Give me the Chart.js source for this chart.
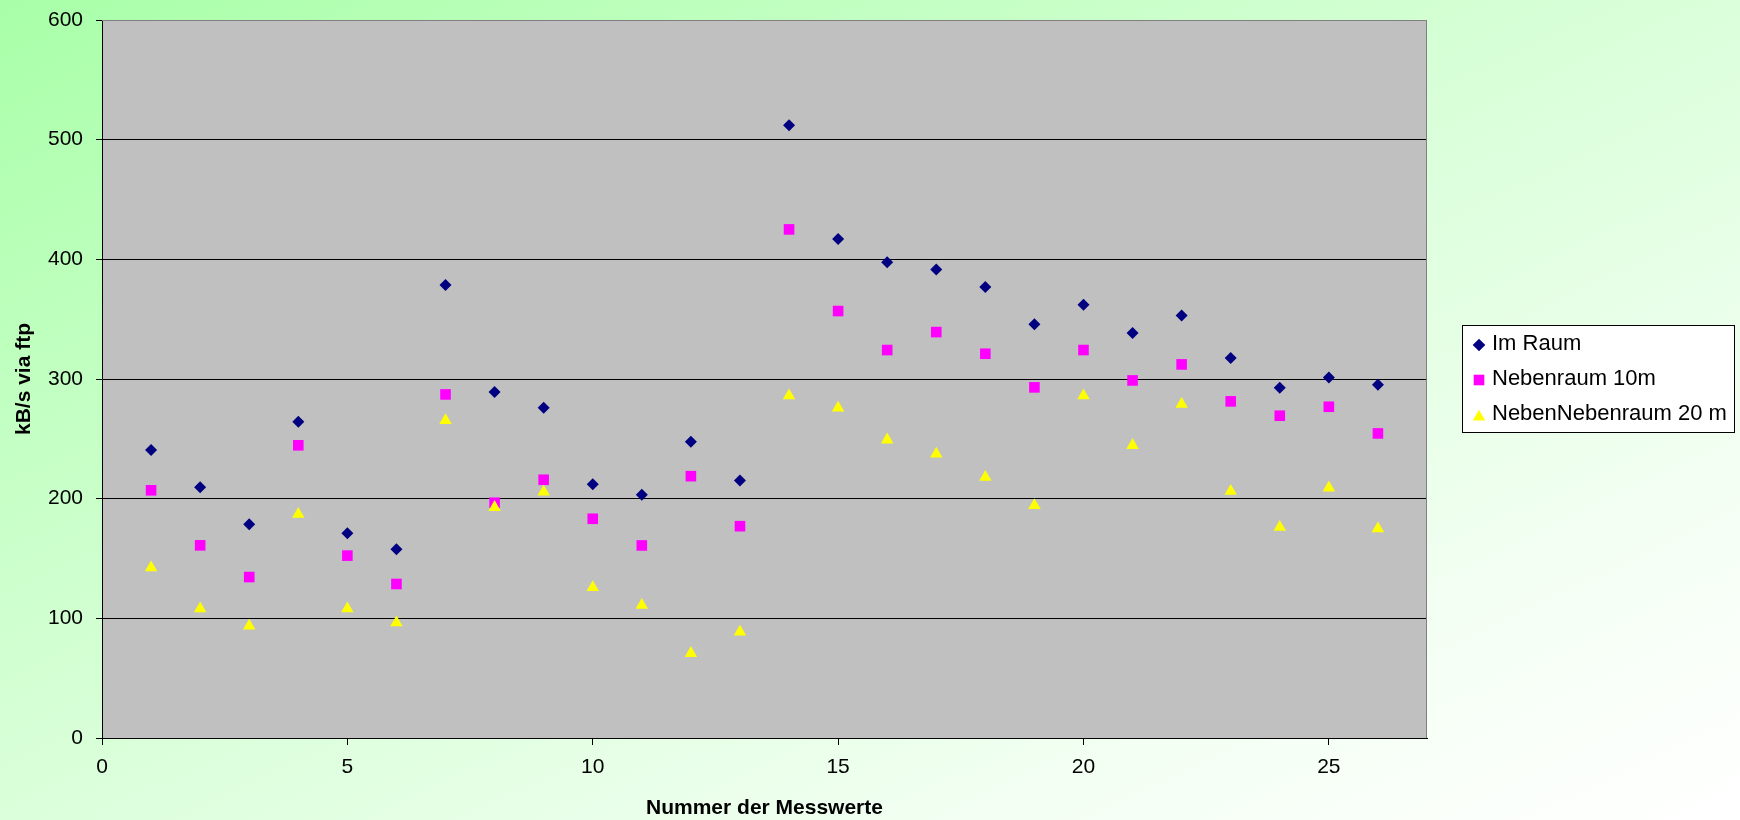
<!DOCTYPE html>
<html>
<head>
<meta charset="utf-8">
<script src="https://cdn.jsdelivr.net/npm/chart.js@4.4.0/dist/chart.umd.min.js"></script>
<style>
  html, body { margin: 0; padding: 0; }
  #wrap {
    width: 1740px; height: 820px;
    background: linear-gradient(to bottom right, #a8ffa8 0%, #d6ffd6 45%, #f4fff4 80%, #ffffff 100%);
  }
  canvas { display: block; }
</style>
</head>
<body>
<div id="wrap"><canvas id="chart" width="1740" height="820"></canvas></div>
<script>
// Nummer der Messwerte
const messwerte = [1, 2, 3, 4, 5, 6, 7, 8, 9, 10, 11, 12, 13, 14, 15, 16, 17, 18, 19, 20, 21, 22, 23, 24, 25, 26];

// kB/s via ftp
const imRaum = [240.7, 209.5, 178.6, 264.3, 171, 157.7, 378.5, 289.1, 276, 212.1, 203.2, 247.6, 215.2,
  512, 417, 397.5, 391.6, 376.9, 345.7, 362, 338.4, 353, 317.5, 292.7, 301.3, 295.2];
const nebenraum10m = [207, 161, 134.5, 244.6, 152.4, 128.7, 287.1, 196.6, 215.8, 183.2, 160.9, 218.8, 177,
  425, 356.8, 324.2, 339.2, 321.1, 293, 324.2, 298.8, 312.2, 281.3, 269.3, 276.8, 254.5];
const nebenNebenraum20m = [142.3, 108, 93.6, 187, 108, 96.4, 265.4, 192.8, 205.6, 125.9, 111, 70.8, 88.7,
  286.1, 275.8, 249.2, 237.4, 218, 194.3, 286, 244.6, 278.9, 206.2, 176.2, 209.1, 174.9];

const seriesNames = ['Im Raum', 'Nebenraum 10m', 'NebenNebenraum 20 m'];

const FONT = '"Liberation Sans", Arial, sans-serif';
Chart.defaults.font.family = FONT;
Chart.defaults.color = '#000';

function points(values) {
  return messwerte.map((x, i) => ({ x: x, y: values[i] }));
}

// grey plot area + grey top/right frame
const plotFrame = {
  id: 'plotFrame',
  beforeDraw(chart) {
    const { ctx, chartArea: a } = chart;
    ctx.save();
    ctx.fillStyle = '#c0c0c0';
    ctx.fillRect(a.left, a.top, a.right - a.left, a.bottom - a.top);
    ctx.restore();
  },
  beforeDatasetsDraw(chart) {
    const { ctx, chartArea: a } = chart;
    ctx.save();
    ctx.strokeStyle = '#808080';
    ctx.lineWidth = 1;
    ctx.beginPath();
    ctx.moveTo(a.left, Math.round(a.top) + 0.5);
    ctx.lineTo(Math.round(a.right) - 0.5, Math.round(a.top) + 0.5);
    ctx.lineTo(Math.round(a.right) - 0.5, a.bottom);
    ctx.stroke();
    ctx.restore();
  }
};

// Excel-style boxed legend to the right of the plot
const boxLegend = {
  id: 'boxLegend',
  afterDraw(chart) {
    const { ctx, chartArea: a } = chart;
    const left = Math.round(a.right) + 35;
    const w = 272, h = 107;
    const top = 325;
    ctx.save();
    ctx.fillStyle = '#ffffff';
    ctx.fillRect(left, top, w, h);
    ctx.strokeStyle = '#000';
    ctx.lineWidth = 1;
    ctx.strokeRect(left + 0.5, top + 0.5, w, h);
    ctx.font = '22px ' + FONT;
    ctx.textBaseline = 'middle';
    ctx.textAlign = 'left';
    chart.data.datasets.forEach((ds, i) => {
      const cy = top + 19 + i * 35;
      ctx.fillStyle = ds.backgroundColor;
      Chart.helpers.drawPoint(ctx, {
        pointStyle: ds.pointStyle, rotation: 0, radius: ds.legendRadius, borderWidth: 0
      }, left + 17, cy + (ds.pointStyle === 'triangle' ? 3 : 1));
      ctx.fillStyle = '#000';
      ctx.fillText(seriesNames[i], left + 30, cy);
    });
    ctx.restore();
  }
};

new Chart(document.getElementById('chart'), {
  type: 'scatter',
  data: {
    datasets: [
      { label: seriesNames[0], data: points(imRaum), pointStyle: 'rectRot', pointRadius: 6, legendRadius: 6.3,
        backgroundColor: '#000080', borderColor: '#000080', borderWidth: 0, order: 2 },
      { label: seriesNames[1], data: points(nebenraum10m), pointStyle: 'rect', pointRadius: 7.5, legendRadius: 7.5,
        backgroundColor: '#ff00ff', borderColor: '#ff00ff', borderWidth: 0, order: 1 },
      { label: seriesNames[2], data: points(nebenNebenraum20m), pointStyle: 'triangle', pointRadius: 7.2, legendRadius: 7.2,
        backgroundColor: '#ffff00', borderColor: '#ffff00', borderWidth: 0, order: 0 }
    ]
  },
  options: {
    responsive: false,
    animation: false,
    events: [],
    layout: { padding: { top: 20, right: 313, bottom: 0, left: 0 } },
    plugins: {
      legend: { display: false },
      tooltip: { enabled: false }
    },
    scales: {
      x: {
        type: 'linear',
        min: 0,
        max: 27,
        ticks: { stepSize: 5, includeBounds: false, font: { size: 21 }, padding: 10, maxRotation: 0 },
        grid: { drawOnChartArea: false, drawTicks: true, tickLength: 7, color: '#000' },
        border: { color: '#000', width: 1 },
        title: {
          display: true, text: 'Nummer der Messwerte',
          font: { size: 21, weight: 'bold', lineHeight: 1 },
          padding: { top: 0, bottom: 1 }
        },
        afterFit(s) {
          s.height = 82;
          s.paddingLeft = 0;
          s.paddingRight = 0;
        }
      },
      y: {
        min: 0,
        max: 600,
        ticks: { stepSize: 100, font: { size: 21 }, padding: 13 },
        grid: {
          color: c => (c.tick && c.tick.value === 600) ? '#808080' : '#000',
          tickColor: '#000',
          tickLength: 6
        },
        border: { color: '#000', width: 1 },
        title: {
          display: true, text: 'kB/s via ftp',
          font: { size: 21, weight: 'bold', lineHeight: 1.2 },
          padding: { top: 12 }
        },
        afterFit(s) {
          s.width = 102;
          s.paddingTop = 0;
          s.paddingBottom = 0;
        }
      }
    }
  },
  plugins: [plotFrame, boxLegend]
});
</script>
</body>
</html>
